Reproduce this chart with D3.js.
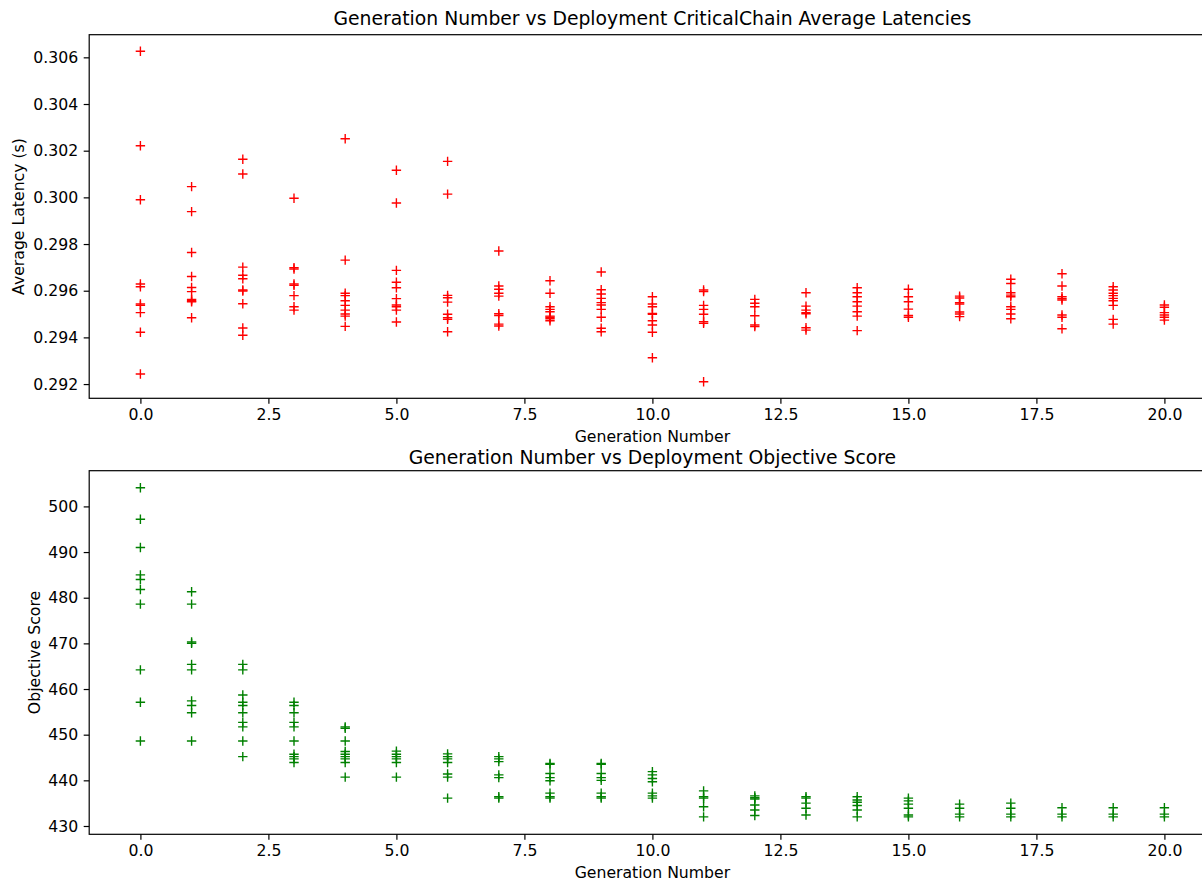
<!DOCTYPE html>
<html>
<head>
<meta charset="utf-8">
<script src="https://cdn.jsdelivr.net/npm/d3@7/dist/d3.min.js"></script>
<style>
  html, body { margin: 0; padding: 0; background: #fff; }
  svg { display: block; }
  text { font-family: "DejaVu Sans", sans-serif; fill: #000; }
</style>
</head>
<body>
<svg id="chart" width="1202" height="888"></svg>
<script>
// Generation numbers (x) shared by both panels
const generations = [0, 1, 2, 3, 4, 5, 6, 7, 8, 9, 10, 11, 12, 13, 14, 15, 16, 17, 18, 19, 20];

// Average critical-chain latency (s) of each deployment, per generation
const latencies = [
  [0.30626, 0.30221, 0.29990, 0.29629, 0.29617, 0.29543, 0.29537, 0.29506, 0.29422, 0.29243],
  [0.30046, 0.29939, 0.29764, 0.29661, 0.29614, 0.29596, 0.29563, 0.29557, 0.29553, 0.29484],
  [0.30163, 0.30100, 0.29701, 0.29666, 0.29651, 0.29603, 0.29599, 0.29544, 0.29440, 0.29409],
  [0.29996, 0.29699, 0.29693, 0.29629, 0.29623, 0.29579, 0.29531, 0.29517],
  [0.30251, 0.29731, 0.29589, 0.29579, 0.29557, 0.29537, 0.29517, 0.29500, 0.29491, 0.29447],
  [0.30116, 0.29976, 0.29687, 0.29636, 0.29613, 0.29566, 0.29539, 0.29531, 0.29517, 0.29466],
  [0.30154, 0.30014, 0.29580, 0.29570, 0.29551, 0.29499, 0.29484, 0.29477, 0.29424],
  [0.29770, 0.29620, 0.29606, 0.29589, 0.29577, 0.29501, 0.29494, 0.29457, 0.29449],
  [0.29643, 0.29589, 0.29531, 0.29520, 0.29510, 0.29491, 0.29486, 0.29480, 0.29471],
  [0.29680, 0.29604, 0.29586, 0.29567, 0.29549, 0.29539, 0.29520, 0.29486, 0.29439, 0.29424],
  [0.29574, 0.29543, 0.29531, 0.29503, 0.29499, 0.29471, 0.29453, 0.29422, 0.29313],
  [0.29603, 0.29596, 0.29537, 0.29520, 0.29499, 0.29467, 0.29460, 0.29210],
  [0.29563, 0.29546, 0.29531, 0.29493, 0.29453, 0.29446],
  [0.29591, 0.29534, 0.29517, 0.29506, 0.29501, 0.29441, 0.29431],
  [0.29613, 0.29591, 0.29574, 0.29553, 0.29534, 0.29510, 0.29491, 0.29429],
  [0.29606, 0.29574, 0.29553, 0.29521, 0.29494, 0.29486],
  [0.29577, 0.29569, 0.29549, 0.29543, 0.29509, 0.29500, 0.29489],
  [0.29649, 0.29631, 0.29591, 0.29581, 0.29574, 0.29531, 0.29520, 0.29500, 0.29480],
  [0.29673, 0.29620, 0.29574, 0.29566, 0.29560, 0.29496, 0.29486, 0.29437],
  [0.29617, 0.29603, 0.29589, 0.29579, 0.29567, 0.29557, 0.29537, 0.29477, 0.29457],
  [0.29539, 0.29529, 0.29506, 0.29496, 0.29486, 0.29474]
];

// Objective score of each deployment, per generation
const scores = [
  [504.1, 497.2, 491.0, 485.0, 484.0, 481.8, 478.6, 464.2, 457.1, 448.6],
  [481.3, 478.6, 470.3, 470.0, 465.4, 464.2, 457.4, 456.4, 454.8, 448.6],
  [465.4, 464.2, 458.7, 457.1, 456.4, 454.8, 452.7, 451.7, 448.6, 445.2],
  [457.1, 456.4, 454.8, 452.7, 451.7, 448.6, 445.7, 445.2, 444.7, 443.9],
  [451.7, 451.4, 448.6, 446.3, 445.7, 445.2, 444.7, 443.9, 440.7],
  [446.4, 445.7, 445.2, 444.7, 443.9, 440.7],
  [445.8, 445.2, 444.7, 443.9, 441.4, 440.7, 436.1],
  [445.2, 444.7, 444.1, 441.2, 440.6, 436.4, 436.1],
  [443.7, 443.5, 441.5, 440.6, 439.9, 437.2, 436.4, 436.1],
  [443.7, 443.5, 441.5, 440.6, 440.0, 437.2, 436.4, 436.1],
  [441.9, 441.2, 440.4, 439.7, 437.2, 436.6, 436.1],
  [437.7, 436.4, 436.1, 434.2, 432.0],
  [436.6, 436.2, 435.9, 434.6, 433.5, 432.3],
  [436.4, 436.1, 435.0, 433.9, 432.4],
  [436.4, 435.7, 435.2, 434.5, 433.5, 432.0],
  [436.1, 435.5, 434.8, 433.9, 432.4, 432.0],
  [434.8, 433.9, 432.6, 432.0],
  [435.0, 433.9, 432.6, 432.0],
  [434.0, 432.6, 432.0],
  [434.0, 432.6, 432.0],
  [434.0, 432.6, 432.0]
];

// Tick values
const xTicks = [0, 2.5, 5, 7.5, 10, 12.5, 15, 17.5, 20];
const latencyTicks = [0.292, 0.294, 0.296, 0.298, 0.300, 0.302, 0.304, 0.306];
const scoreTicks = [430, 440, 450, 460, 470, 480, 490, 500];

// Axis limits
const xDomain = [-1, 21];
const latencyDomain = [0.29139, 0.30697];
const scoreDomain = [428.18, 507.82];

const svg = d3.select("#chart");
const left = 89.2, right = 1215.6;
const tickLen = 5.5, tickPad = 5.5, fontSize = 15.7, titleSize = 18.8;

const x = d3.scaleLinear().domain(xDomain).range([left, right]);

function flatten(values) {
  const pts = [];
  generations.forEach((g, i) => values[i].forEach(v => pts.push({ g, v })));
  return pts;
}

function panel(opts) {
  const { top, bottom, y, yTicks, yFmt, values, color, title, titleGap, ylabel, ylabelX } = opts;
  const g = svg.append("g");

  // Clip region for markers
  const clipId = "clip" + Math.round(top);
  svg.append("clipPath").attr("id", clipId)
    .append("rect").attr("x", left).attr("y", top)
    .attr("width", right - left).attr("height", bottom - top);

  // Plus markers
  const s = 4.7;
  g.append("g").attr("clip-path", `url(#${clipId})`)
    .selectAll("path").data(flatten(values)).join("path")
    .attr("d", d => {
      const px = x(d.g), py = y(d.v);
      return `M${px - s},${py}H${px + s}M${px},${py - s}V${py + s}`;
    })
    .attr("stroke", color).attr("stroke-width", 1.4).attr("fill", "none");

  // Spines
  g.append("rect").attr("x", left).attr("y", top)
    .attr("width", right - left).attr("height", bottom - top)
    .attr("fill", "none").attr("stroke", "#000").attr("stroke-width", 1.2);

  // X axis
  const xa = g.append("g").attr("transform", `translate(0,${bottom})`)
    .call(d3.axisBottom(x).tickValues(xTicks).tickFormat(d3.format(".1f"))
      .tickSize(tickLen).tickPadding(tickPad));
  xa.select(".domain").remove();
  xa.selectAll("line").attr("stroke", "#000").attr("stroke-width", 1.2);
  xa.selectAll("text").attr("font-size", fontSize).attr("font-family", "DejaVu Sans").attr("fill", "#000");

  // Y axis
  const ya = g.append("g").attr("transform", `translate(${left},0)`)
    .call(d3.axisLeft(y).tickValues(yTicks).tickFormat(d3.format(yFmt))
      .tickSize(tickLen).tickPadding(tickPad));
  ya.select(".domain").remove();
  ya.selectAll("line").attr("stroke", "#000").attr("stroke-width", 1.2);
  ya.selectAll("text").attr("font-size", fontSize).attr("font-family", "DejaVu Sans").attr("fill", "#000");

  // Title
  g.append("text").attr("x", (left + right) / 2).attr("y", top - titleGap)
    .attr("text-anchor", "middle").attr("font-size", titleSize).text(title);

  // Axis labels
  g.append("text").attr("x", (left + right) / 2).attr("y", bottom + 43.6)
    .attr("text-anchor", "middle").attr("font-size", fontSize).text("Generation Number");
  g.append("text")
    .attr("transform", `translate(${ylabelX},${(top + bottom) / 2}) rotate(-90)`)
    .attr("text-anchor", "middle").attr("font-size", fontSize).text(ylabel);
}

panel({
  top: 34.7, bottom: 398.3,
  y: d3.scaleLinear().domain(latencyDomain).range([398.3, 34.7]),
  yTicks: latencyTicks, yFmt: ".3f",
  values: latencies, color: "#ff0000",
  title: "Generation Number vs Deployment CriticalChain Average Latencies", titleGap: 9.5,
  ylabel: "Average Latency (s)", ylabelX: 24
});

panel({
  top: 470.7, bottom: 834.3,
  y: d3.scaleLinear().domain(scoreDomain).range([834.3, 470.7]),
  yTicks: scoreTicks, yFmt: "d",
  values: scores, color: "#008000",
  title: "Generation Number vs Deployment Objective Score", titleGap: 6.8,
  ylabel: "Objective Score", ylabelX: 40
});
</script>
</body>
</html>
